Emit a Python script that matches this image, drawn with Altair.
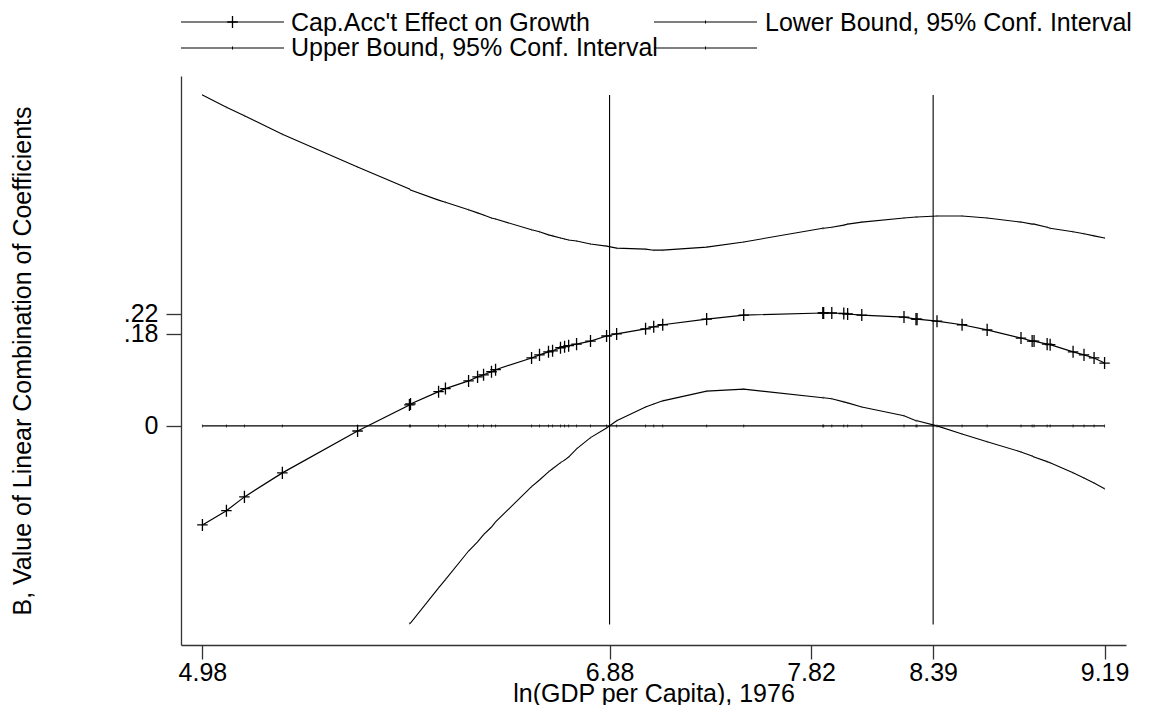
import altair as alt
import pandas as pd

# ---------------- data ----------------
obs_x = [4.98, 5.092, 5.176, 5.353, 5.704, 5.946, 5.951, 6.082, 6.114, 6.222,
         6.264, 6.292, 6.329, 6.348, 6.516, 6.553, 6.595, 6.614, 6.651, 6.670,
         6.689, 6.726, 6.791, 6.866, 6.913, 7.048, 7.086, 7.128, 7.333, 7.506,
         7.875, 7.879, 7.917, 7.973, 7.991, 8.057, 8.254, 8.310, 8.315, 8.408,
         8.525, 8.642, 8.800, 8.852, 8.861, 8.922, 8.936, 9.043, 9.094, 9.141,
         9.19]

effect = [-0.194, -0.166, -0.139, -0.092, -0.010, 0.041, 0.043, 0.067, 0.073, 0.088,
          0.096, 0.100, 0.106, 0.110, 0.133, 0.139, 0.145, 0.147, 0.153, 0.155,
          0.157, 0.160, 0.166, 0.176, 0.180, 0.190, 0.194, 0.198, 0.209, 0.217,
          0.221, 0.221, 0.221, 0.220, 0.219, 0.217, 0.213, 0.209, 0.209, 0.205,
          0.198, 0.188, 0.172, 0.166, 0.166, 0.160, 0.159, 0.145, 0.139, 0.133,
          0.123]

upper = [0.648, 0.624, 0.607, 0.571, 0.507, 0.464, 0.462, 0.442, 0.438, 0.423,
         0.417, 0.413, 0.407, 0.405, 0.384, 0.380, 0.374, 0.372, 0.368, 0.366,
         0.364, 0.362, 0.356, 0.352, 0.348, 0.346, 0.344, 0.344, 0.350, 0.360,
         0.387, 0.387, 0.389, 0.393, 0.395, 0.399, 0.407, 0.409, 0.409, 0.411,
         0.411, 0.407, 0.399, 0.395, 0.395, 0.389, 0.387, 0.380, 0.376, 0.372,
         0.368]

lower = [None, None, None, None, None, -0.387, -0.386, -0.317, -0.301, -0.245,
         -0.227, -0.213, -0.198, -0.188, -0.119, -0.106, -0.090, -0.084, -0.072, -0.067,
         -0.061, -0.045, -0.023, -0.004, 0.010, 0.037, 0.043, 0.049, 0.068, 0.072,
         0.055, 0.055, 0.053, 0.047, 0.045, 0.037, 0.020, 0.010, 0.010, 0.000,
         -0.016, -0.031, -0.051, -0.059, -0.061, -0.070, -0.072, -0.092, -0.102, -0.112,
         -0.123]

vline_x = [6.88, 8.39]
vline_top = [0.648, 0.648]
vline_bottom = [-0.389, -0.389]

x_ticks = [4.98, 6.88, 7.82, 8.39, 9.19]
y_ticks = [0, 0.18, 0.22]

legend_labels = ["Cap.Acc't Effect on Growth",
                 "Lower Bound, 95% Conf. Interval",
                 "Upper Bound, 95% Conf. Interval"]

x_title = "ln(GDP per Capita), 1976"
y_title = "B, Value of Linear Combination of Coefficients"

# ---------------- chart ----------------
FONT = "Liberation Sans"
FS = 25
X_DOMAIN = [4.88, 9.29]
Y_DOMAIN = [-0.429, 0.685]

df = pd.DataFrame({"x": obs_x, "effect": effect, "upper": upper, "lower": lower})
df_lower = df.dropna(subset=["lower"])
vdf = pd.DataFrame({"x": vline_x, "top": vline_top, "bottom": vline_bottom})

xs = alt.X("x:Q",
           scale=alt.Scale(domain=X_DOMAIN, nice=False, zero=False),
           axis=alt.Axis(values=x_ticks, format=".2f", title=x_title,
                         grid=False, tickSize=14, labelPadding=1,
                         titlePadding=-4, labelFlush=False, labelOverlap=False,
                         labelFontSize=FS, titleFontSize=FS, labelFont=FONT,
                         titleFont=FONT, titleFontWeight="normal",
                         labelColor="black", titleColor="black",
                         domainColor="#333", tickColor="#333",
                         domainWidth=1.3, tickWidth=1.3))

def yenc(field):
    return alt.Y(field,
                 scale=alt.Scale(domain=Y_DOMAIN, nice=False, zero=False),
                 axis=alt.Axis(values=y_ticks, title=y_title, grid=False,
                               labelExpr="datum.value == 0 ? '0' : '.' + format(round(datum.value*100), '02d')",
                               tickSize=15, labelPadding=8, titlePadding=88,
                               labelOverlap=False, labelBound=False,
                               labelFontSize=FS, titleFontSize=FS,
                               labelFont=FONT, titleFont=FONT,
                               titleFontWeight="normal",
                               labelColor="black", titleColor="black",
                               domainColor="#333", tickColor="#333",
                               domainWidth=1.3, tickWidth=1.3))

base = alt.Chart(df)

zero_line = base.transform_calculate(zero="0").mark_line(
    color="black", strokeWidth=1.1).encode(x=xs, y=yenc("zero:Q"))
zero_ticks = base.transform_calculate(zero="0").mark_tick(
    orient="vertical", color="black", size=3, thickness=1).encode(x=xs, y=yenc("zero:Q"))

upper_line = base.mark_line(color="black", strokeWidth=1.1).encode(x=xs, y=yenc("upper:Q"))
upper_ticks = base.mark_tick(orient="vertical", color="#444", size=2,
                             thickness=1).encode(x=xs, y=yenc("upper:Q"))

lower_line = alt.Chart(df_lower).mark_line(color="black", strokeWidth=1.1).encode(
    x=xs, y=yenc("lower:Q"))
lower_ticks = alt.Chart(df_lower).mark_tick(orient="vertical", color="#444", size=2,
                                            thickness=1).encode(x=xs, y=yenc("lower:Q"))

effect_line = base.mark_line(color="black", strokeWidth=1.2).encode(x=xs, y=yenc("effect:Q"))
PLUS = "M-1,0L1,0M0,-1.15L0,1.15"
effect_pts = base.mark_point(shape=PLUS, size=110, filled=False, color="black",
                             strokeWidth=1.3, opacity=1).encode(x=xs, y=yenc("effect:Q"))

vrules = alt.Chart(vdf).mark_rule(color="black", strokeWidth=1.1).encode(
    x=xs, y=yenc("top:Q"), y2="bottom:Q")

# ---------------- manual Stata-style legend ----------------
one = pd.DataFrame({"d": [0]})
ROW1_T, ROW1_L = -53, -54
ROW2_T, ROW2_L = -28, -28
C1_L, C1_R, C1_T = 0, 103, 110
C2_L, C2_R, C2_T = 473, 576, 584

def leg_line(x1, x2, y, plus=False):
    line = alt.Chart(one).mark_rule(color="black", strokeWidth=1.1).encode(
        x=alt.value(x1), x2=alt.value(x2), y=alt.value(y))
    mid = (x1 + x2) / 2
    if plus:
        mk = alt.Chart(one).mark_point(shape=PLUS, size=110, filled=False, color="black",
                                       strokeWidth=1.3, opacity=1).encode(
            x=alt.value(mid), y=alt.value(y))
    else:
        mk = alt.Chart(one).mark_rule(color="black", strokeWidth=1).encode(
            x=alt.value(mid), y=alt.value(y - 1.5), y2=alt.value(y + 1.5))
    return [line, mk]

def leg_text(label, x, y):
    return alt.Chart(pd.DataFrame({"t": [label]})).mark_text(
        align="left", baseline="middle", font=FONT, fontSize=FS, color="black").encode(
        x=alt.value(x), y=alt.value(y), text="t:N")

legend = []
legend += leg_line(C1_L, C1_R, ROW1_L, plus=True)
legend += [leg_text(legend_labels[0], C1_T, ROW1_T)]
legend += leg_line(C2_L, C2_R, ROW1_L)
legend += [leg_text(legend_labels[1], C2_T, ROW1_T)]
legend += leg_line(C1_L, C1_R, ROW2_L)
legend += [leg_text(legend_labels[2], C1_T, ROW2_T)]
legend += leg_line(C2_L, C2_R, ROW2_L)

chart = alt.layer(
    zero_line, zero_ticks, upper_line, upper_ticks, lower_line, lower_ticks,
    vrules, effect_line, effect_pts, *legend
).properties(
    width=945, height=569,
    autosize=alt.AutoSizeParams(type="none"),
    padding={"left": 173, "top": 68, "right": 18, "bottom": 60},
    background="white",
).configure_view(stroke=None)

chart.save("out.html", embed_options={"renderer": "svg", "actions": False})
